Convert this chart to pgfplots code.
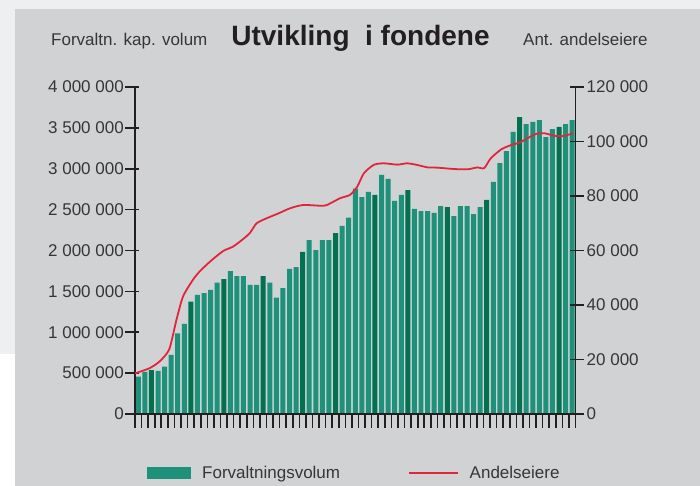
\documentclass[border=0pt]{standalone}
\usepackage{fontspec}
\setmainfont{Liberation Sans}
\usepackage{pgfplots}
\pgfplotsset{compat=1.18}
\definecolor{outerbg}{HTML}{EEEFF1}
\definecolor{panel}{HTML}{D1D2D4}
\definecolor{barlight}{HTML}{1E917A}
\definecolor{bardark}{HTML}{027150}
\definecolor{linered}{HTML}{E0253D}
\definecolor{axisc}{HTML}{231F20}
\definecolor{txt}{HTML}{363636}

% monthly volume (NOK), light bars and the darker marker bars
\pgfplotstableread{
x y
1 456000
2 514000
4 526000
5 579000
6 722000
7 987000
8 1101000
10 1456000
11 1480000
12 1517000
13 1606000
15 1749000
16 1688000
17 1688000
18 1578000
19 1578000
21 1606000
22 1423000
23 1541000
24 1774000
25 1798000
27 2128000
28 2006000
29 2128000
30 2128000
32 2300000
33 2401000
34 2756000
35 2654000
36 2716000
38 2924000
39 2875000
40 2606000
41 2679000
43 2508000
44 2483000
45 2483000
46 2459000
47 2544000
49 2422000
50 2544000
51 2544000
52 2446000
53 2532000
55 2838000
56 3070000
57 3217000
58 3450000
60 3547000
61 3572000
62 3596000
63 3388000
64 3486000
66 3547000
67 3596000
}\volLight
\pgfplotstableread{
x y
3 538000
9 1374000
14 1651000
20 1688000
26 1982000
31 2214000
37 2679000
42 2740000
48 2532000
54 2618000
59 3633000
65 3511000
}\volDark
% number of unit holders
\pgfplotstableread{
x y
0.5 14900
2.7 16800
4.2 19200
5.7 23700
6.8 34500
7.8 43100
9.3 49200
10.3 52200
11.9 55900
13.9 59800
15.4 61400
16.9 64100
18.0 66500
19.0 70000
20.5 71800
22.3 73600
24.1 75500
26.1 76700
29.2 76400
30.2 77300
31.7 79200
33.2 80400
34.3 83400
35.3 88300
36.8 91400
38.3 92000
40.4 91500
41.9 92000
43.4 91400
45.0 90500
46.5 90400
49.0 89900
51.1 89800
52.6 90500
53.6 90200
54.6 93800
56.2 97100
57.7 98700
59.0 99600
60.2 101200
61.5 102800
62.8 103000
64.3 102100
65.6 102000
67.1 103000
}\holders

\pgfplotsset{
  base/.style={
    scale only axis, width=440.5bp, height=327bp,
    at={(135bp,72bp)}, anchor=south west,
    xmin=0.5, xmax=67.5,
    axis line style={line width=1.6bp, color=axisc},
    tick style={line width=1.6bp, color=axisc},
    major tick length=14bp, tick align=center,
    ticklabel style={font=\fontsize{17bp}{20bp}\selectfont, text=txt},
    scaled y ticks=false,
  },
}

\begin{document}
\begin{tikzpicture}
\useasboundingbox (0,0) rectangle (700bp,486bp);
\fill[outerbg] (0,0) rectangle (700bp,486bp);
\fill[white] (0,0) rectangle (15bp,132bp);
\fill[panel] (15bp,0) rectangle (700bp,477bp);

\begin{axis}[base,
  axis x line*=bottom, axis y line*=left, axis on top,
  ymin=0, ymax=4000000,
  ybar, bar width=0.76,
  xtick={0.5,1.5,...,67.5}, xticklabels={},
  ytick={0,500000,1000000,1500000,2000000,2500000,3000000,3500000,4000000},
  yticklabels={0,500 000,1 000 000,1 500 000,2 000 000,2 500 000,3 000 000,3 500 000,4 000 000},
  y tick style={xshift=-3bp},
  yticklabel style={anchor=east, inner sep=0pt, xshift=-4bp},
  legend style={at={(0.0272,-0.1804)}, anchor=west, draw=none, fill=none,
    inner sep=0pt, font=\fontsize{17bp}{20bp}\selectfont, text=txt,
    nodes={inner sep=0pt},
    /tikz/every odd column/.append style={column sep=11bp},
    /tikz/every even column/.append style={column sep=68bp}},
  legend columns=2,
]
\addplot[fill=barlight, draw=none, bar shift=0pt,
  legend image code/.code={\fill[barlight] (0bp,-6bp) rectangle (44bp,6bp);}]
  table[x=x,y=y] {\volLight};
\addlegendentry{Forvaltningsvolum}
\addplot[fill=bardark, draw=none, bar shift=0pt, forget plot] table[x=x,y=y] {\volDark};
\addlegendimage{legend image code/.code={\draw[linered,line width=1.6bp] (0bp,0bp) -- (49bp,0bp);}}
\addlegendentry{Andelseiere}
\end{axis}

\begin{axis}[base,
  axis x line=none, axis y line*=right,
  ymin=0, ymax=120000,
  ytick={0,20000,40000,60000,80000,100000,120000},
  yticklabels={0,20 000,40 000,60 000,80 000,100 000,120 000},
  y tick style={xshift=1bp},
  yticklabel style={anchor=west, inner sep=0pt, xshift=4bp},
]
\addplot[linered, line width=1.8bp, line join=round, smooth, tension=0.4] table[x=x,y=y] {\holders};
\end{axis}

\node[anchor=base west, text=txt, font=\fontsize{17bp}{20bp}\selectfont, inner sep=0pt]
  at (51bp,440bp) {Forvaltn. kap. volum};
\node[anchor=base, text=axisc, font=\fontsize{28bp}{32bp}\selectfont\bfseries, inner sep=0pt]
  at (360.5bp,440bp) {Utvikling\ \ i fondene};
\node[anchor=base west, text=txt, font=\fontsize{17bp}{20bp}\selectfont, inner sep=0pt]
  at (523bp,440bp) {Ant. andelseiere};
\end{tikzpicture}
\end{document}
